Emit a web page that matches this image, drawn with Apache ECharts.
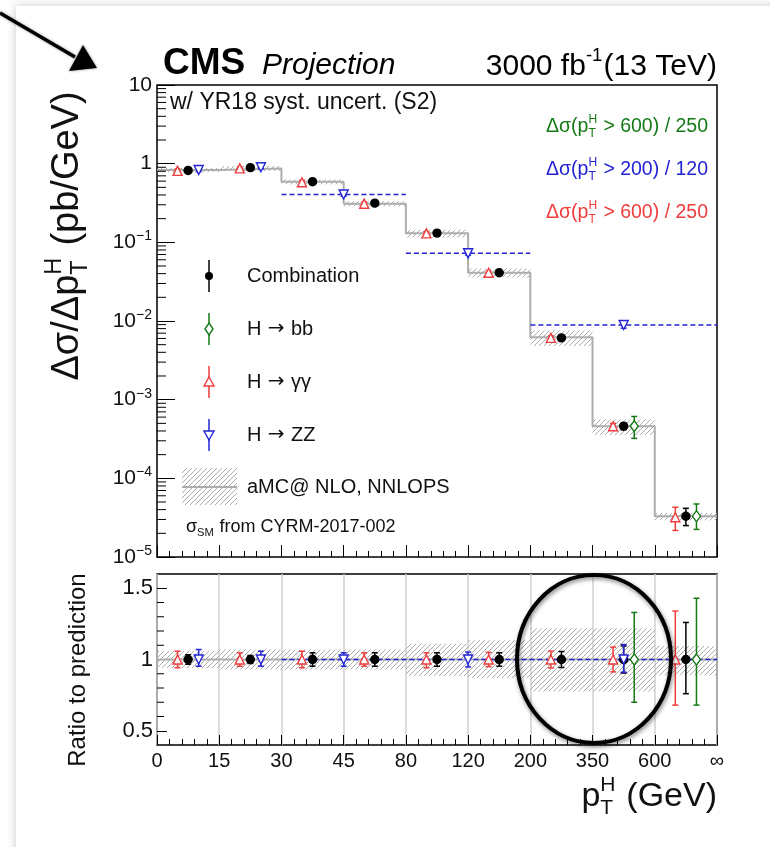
<!DOCTYPE html>
<html>
<head>
<meta charset="utf-8">
<script src="https://cdn.jsdelivr.net/npm/echarts@6/dist/echarts.min.js"></script>
<style>
html, body { margin: 0; padding: 0; background: #fff; }
#main { width: 770px; height: 847px; }
</style>
</head>
<body>
<div id="main"></div>
<script>
// bin edges of pT(H) in GeV, equal width on the plot
const binEdges = ['0', '15', '30', '45', '80', '120', '200', '350', '600', '∞'];

// aMC@NLO NNLOPS prediction, pb/GeV, and its relative band
const theory = [0.83, 0.87, 0.59, 0.31, 0.13, 0.041, 0.0062, 0.00046, 0.000033];
const theoryUp = [0.06, 0.07, 0.07, 0.07, 0.11, 0.135, 0.22, 0.22, 0.095];
const theoryDn = [0.06, 0.07, 0.07, 0.07, 0.115, 0.13, 0.225, 0.225, 0.11];

// combination
const comboVal = [0.82, 0.89, 0.59, 0.315, 0.131, 0.041, 0.0061, 0.00046, 0.000033];
const comboRatio = [1, 1, 1, 1, 1, 1, 1, 1, 1];
const comboUp = [0.033, 0.028, 0.047, 0.047, 0.047, 0.047, 0.056, 0.095, 0.26];
const comboDn = [0.033, 0.028, 0.047, 0.047, 0.047, 0.047, 0.056, 0.095, 0.24];

// H -> gamma gamma
const ggVal = [0.81, 0.87, 0.58, 0.31, 0.13, 0.041, 0.0061, 0.00046, 0.000032];
const ggRatio = [1, 1, 1, 1, 1, 1, 1, 1, 1];
const ggUp = [0.058, 0.047, 0.058, 0.047, 0.047, 0.05, 0.059, 0.087, 0.34];
const ggDn = [0.058, 0.047, 0.058, 0.047, 0.058, 0.05, 0.059, 0.087, 0.32];

// H -> ZZ, some bins merged (bin index ranges)
const zzLo = [0, 1, 2, 4, 6];
const zzHi = [1, 2, 4, 6, 9];
const zzVal = [0.83, 0.90, 0.405, 0.0725, 0.0089];
const zzRatio = [1, 1, 1, 1, 1];
const zzUp = [0.07, 0.058, 0.047, 0.052, 0.105];
const zzDn = [0.047, 0.047, 0.047, 0.052, 0.089];

// H -> bb
const bbBin = [7, 8];
const bbVal = [0.00046, 0.000033];
const bbRatio = [1, 1];
const bbUp = [0.33, 0.43];
const bbDn = [0.30, 0.32];

// axis decorations
const logMinor = [];
[-5, -4, -3, -2, -1, 0].forEach(function (e) {
  [2, 3, 4, 5, 6, 7, 8, 9].forEach(function (d) { logMinor.push(d * Math.pow(10, e)); });
});
const ratioMinor = [0.6, 0.7, 0.8, 0.9, 1.1, 1.2, 1.3, 1.4];

const FONT = '"Liberation Sans", Arial, Helvetica, sans-serif';
const ARROWFONT = '"DejaVu Sans", sans-serif';
const RED = '#f03c3c', GREEN = '#157a15', BLUE = '#2323d6';
const OFF = 0.17;

const mctx = document.createElement('canvas').getContext('2d');
function tw(t, size, weight, style, fam) {
  mctx.font = (style || 'normal') + ' ' + (weight || 'normal') + ' ' + size + 'px ' + (fam || FONT);
  return mctx.measureText(t).width;
}

// hatch pattern
function hatchCanvas(color) {
  const c = document.createElement('canvas');
  c.width = 5; c.height = 5;
  const g = c.getContext('2d');
  g.strokeStyle = color; g.lineWidth = 1;
  g.beginPath();
  g.moveTo(0, 5); g.lineTo(5, 0);
  g.moveTo(-1, 1); g.lineTo(1, -1);
  g.moveTo(4, 6); g.lineTo(6, 4);
  g.stroke();
  return c;
}
const hatchFill = { image: hatchCanvas('#ababab'), repeat: 'repeat' };

// text with sub/superscripts
function comp(parts, size, color, weight, fstyle) {
  const small = size * 0.62;
  let x = 0;
  const ch = [];
  parts.forEach(function (p) {
    if (typeof p === 'string' || p.t) {
      const t = typeof p === 'string' ? p : p.t;
      const fam = p.font || FONT;
      ch.push({ type: 'text', x: x, y: 0, silent: true, style: { text: t, fontFamily: fam, fontSize: size,
        fontWeight: weight || 'normal', fontStyle: fstyle || 'normal', fill: color, align: 'left', verticalAlign: 'middle' } });
      x += tw(t, size, weight, fstyle, fam);
    } else {
      let w = 0;
      if (p.sup) {
        ch.push({ type: 'text', x: x, y: -size * 0.36, silent: true, style: { text: p.sup, fontFamily: FONT, fontSize: small,
          fill: color, align: 'left', verticalAlign: 'middle' } });
        w = Math.max(w, tw(p.sup, small));
      }
      if (p.sub) {
        ch.push({ type: 'text', x: x, y: size * 0.32, silent: true, style: { text: p.sub, fontFamily: FONT, fontSize: small,
          fill: color, align: 'left', verticalAlign: 'middle' } });
        w = Math.max(w, tw(p.sub, small));
      }
      x += w + size * 0.04;
    }
  });
  return { children: ch, width: x };
}
function place(parts, x, y, size, color, align, weight, fstyle) {
  const c = comp(parts, size, color, weight, fstyle);
  const x0 = align === 'right' ? x - c.width : (align === 'center' ? x - c.width / 2 : x);
  return { type: 'group', x: x0, y: y, z: 20, children: c.children };
}
function placeRot(parts, cx, cy, size, color) {
  const c = comp(parts, size, color);
  c.children.forEach(function (e) { e.x -= c.width / 2; });
  return { type: 'group', x: cx, y: cy, rotation: Math.PI / 2, z: 20, children: c.children };
}

// render helpers
function bandItem(params, api) {
  const i = api.value(0);
  const a = api.coord([i, api.value(1)]);
  const b = api.coord([i + 1, api.value(2)]);
  return { type: 'rect', shape: { x: a[0], y: a[1], width: b[0] - a[0], height: b[1] - a[1] },
    style: { fill: hatchFill } };
}
function errItem(color, cap) {
  return function (params, api) {
    const x = api.value(0);
    const lo = api.coord([x, api.value(2)]);
    const hi = api.coord([x, api.value(3)]);
    const st = { stroke: color, lineWidth: 1.5 };
    return { type: 'group', children: [
      { type: 'line', shape: { x1: lo[0], y1: lo[1], x2: hi[0], y2: hi[1] }, style: st },
      { type: 'line', shape: { x1: lo[0] - cap, y1: lo[1], x2: lo[0] + cap, y2: lo[1] }, style: st },
      { type: 'line', shape: { x1: hi[0] - cap, y1: hi[1], x2: hi[0] + cap, y2: hi[1] }, style: st }
    ] };
  };
}
function spanItem(params, api) {
  const a = api.coord([api.value(0), api.value(2)]);
  const b = api.coord([api.value(1), api.value(2)]);
  return { type: 'line', shape: { x1: a[0], y1: a[1], x2: b[0], y2: b[1] },
    style: { stroke: BLUE, lineWidth: 1.5, lineDash: [5, 3] } };
}
function tickItem(len) {
  return function (params, api) {
    const p = api.coord([0, api.value(0)]);
    return { type: 'line', shape: { x1: p[0], y1: p[1], x2: p[0] + len, y2: p[1] },
      style: { stroke: '#000', lineWidth: 1 } };
  };
}

// data rows
function pts(vals, up, dn, xs) {
  return vals.map(function (v, i) { return [xs[i], v, v * (1 - dn[i]), v * (1 + up[i])]; });
}
const binX = theory.map(function (v, i) { return i + 0.5; });
const ggX = binX.map(function (x) { return x - OFF; });
const zzX = zzLo.map(function (lo, i) { return (lo + zzHi[i]) / 2 + (zzHi[i] - lo === 1 ? OFF : 0); });
const bbX = bbBin.map(function (b) { return b + 0.5 + OFF; });

const stepData = theory.map(function (v, i) { return [i, v]; });
stepData.push([theory.length, theory[theory.length - 1]]);

const mergedZZ = zzLo.map(function (lo, i) { return i; }).filter(function (i) { return zzHi[i] - zzLo[i] > 1; });

function scatter(name, data, g, symbol, size, color, fill, rot) {
  return { name: name, type: 'scatter', xAxisIndex: g, yAxisIndex: g, z: 6,
    data: data.map(function (d) { return [d[0], d[1]]; }),
    symbol: symbol, symbolSize: size, symbolRotate: rot || 0,
    itemStyle: { color: fill, borderColor: color, borderWidth: 1.4, opacity: 1 } };
}
function errSeries(data, g, color) {
  return { type: 'custom', xAxisIndex: g, yAxisIndex: g, z: 5, renderItem: errItem(color, 3), data: data };
}

function panelSeries(g) {
  const isTop = g === 0;
  const band = theory.map(function (t, i) {
    const c = isTop ? t : 1;
    return [i, c * (1 + theoryUp[i]), c * (1 - theoryDn[i])];
  });
  const combo = pts(isTop ? comboVal : comboRatio, comboUp, comboDn, binX);
  const gg = pts(isTop ? ggVal : ggRatio, ggUp, ggDn, ggX);
  const zz = pts(isTop ? zzVal : zzRatio, zzUp, zzDn, zzX);
  const bb = pts(isTop ? bbVal : bbRatio, bbUp, bbDn, bbX);
  let spans = mergedZZ.map(function (i) { return [zzLo[i], zzHi[i], isTop ? zzVal[i] : zzRatio[i]]; });
  if (!isTop) spans = [[zzLo[mergedZZ[0]], zzHi[zzHi.length - 1], 1]];
  const s = [
    { type: 'custom', xAxisIndex: g, yAxisIndex: g, z: 1, renderItem: bandItem, data: band },
    { type: 'line', xAxisIndex: g, yAxisIndex: g, z: 2, step: isTop ? 'end' : false, symbol: 'none',
      lineStyle: { color: '#adadad', width: 2 },
      data: isTop ? stepData : [[0, 1], [9, 1]] },
    { type: 'custom', xAxisIndex: g, yAxisIndex: g, z: 3, renderItem: spanItem, data: spans },
    errSeries(gg, g, RED), errSeries(combo, g, '#000'), errSeries(zz, g, BLUE), errSeries(bb, g, GREEN),
    scatter('gg', gg, g, 'triangle', 9, RED, '#fff'),
    scatter('combo', combo, g, 'circle', 8, '#000', '#000'),
    scatter('zz', zz, g, 'triangle', 9, BLUE, '#fff', 180),
    scatter('bb', bb, g, 'diamond', [8, 11], GREEN, '#fff')
  ];
  s.push({ type: 'custom', xAxisIndex: g, yAxisIndex: g, z: 7, clip: false, encode: { y: 0 },
    renderItem: tickItem(isTop ? 9 : 7), data: (isTop ? logMinor : ratioMinor).map(function (v) { return [v]; }) });
  return s;
}

function fmtLog(v) {
  const e = Math.round(Math.log10(v));
  if (e === 0) return '{b|1}';
  if (e === 1) return '{b|10}';
  return '{b|10}{s|−' + (-e) + '}';
}

// legend block
const LX = 209;
function legErr(y, color) {
  return { type: 'line', z: 20, shape: { x1: LX, y1: y - 16, x2: LX, y2: y + 16 }, style: { stroke: color, lineWidth: 1.5 } };
}
const ARROW = { t: ' → ', font: ARROWFONT };
const legend = [
  legErr(276, '#000'),
  { type: 'circle', z: 21, shape: { cx: LX, cy: 276, r: 4 }, style: { fill: '#000' } },
  legErr(329, GREEN),
  { type: 'polygon', z: 21, shape: { points: [[LX, 323], [LX + 4, 329], [LX, 335], [LX - 4, 329]] }, style: { fill: '#fff', stroke: GREEN, lineWidth: 1.4 } },
  legErr(382, RED),
  { type: 'polygon', z: 21, shape: { points: [[LX, 377], [LX + 5, 386], [LX - 5, 386]] }, style: { fill: '#fff', stroke: RED, lineWidth: 1.4 } },
  legErr(435, BLUE),
  { type: 'polygon', z: 21, shape: { points: [[LX, 440], [LX + 5, 431], [LX - 5, 431]] }, style: { fill: '#fff', stroke: BLUE, lineWidth: 1.4 } },
  { type: 'rect', z: 20, shape: { x: 182, y: 468, width: 55, height: 37 }, style: { fill: hatchFill } },
  { type: 'line', z: 21, shape: { x1: 182, y1: 487, x2: 237, y2: 487 }, style: { stroke: '#adadad', lineWidth: 2 } },
  place(['Combination'], 247, 276, 20, '#111'),
  place(['H', ARROW, 'bb'], 247, 329, 20, '#111'),
  place(['H', ARROW, 'γγ'], 247, 382, 20, '#111'),
  place(['H', ARROW, 'ZZ'], 247, 435, 20, '#111'),
  place(['aMC@ NLO, NNLOPS'], 247, 487, 20, '#111'),
  place(['σ', { sub: 'SM' }, ' from CYRM-2017-002'], 186, 527, 18, '#111')
];

const texts = [
  place(['CMS'], 163, 64, 37, '#000', 'left', 'bold'),
  place(['Projection'], 262, 66, 30, '#000', 'left', 'normal', 'italic'),
  place(['3000 fb', { sup: '-1' }, '(13 TeV)'], 717, 67, 30, '#000', 'right'),
  place(['w/ YR18 syst. uncert. (S2)'], 170, 103, 23, '#111'),
  place(['Δσ(p', { sup: 'H', sub: 'T' }, ' > 600) / 250'], 708, 127, 19.5, GREEN, 'right'),
  place(['Δσ(p', { sup: 'H', sub: 'T' }, ' > 200) / 120'], 708, 170, 19.5, BLUE, 'right'),
  place(['Δσ(p', { sup: 'H', sub: 'T' }, ' > 600) / 250'], 708, 213, 19.5, RED, 'right'),
  placeRot(['Δσ/Δp', { sup: 'H', sub: 'T' }, ' (pb/GeV)'], 68, 236, 38, '#111'),
  placeRot(['Ratio to prediction'], 78, 670, 24, '#111'),
  place(['p', { sup: 'H', sub: 'T' }, ' (GeV)'], 717, 797, 34, '#111', 'right')
];

const annot = [
  { type: 'rect', z: -5, shape: { x: 16, y: 6, width: 770, height: 860 },
    style: { fill: '#fff', shadowBlur: 9, shadowColor: 'rgba(0,0,0,0.22)' } },
  { type: 'line', z: 30, shape: { x1: 0, y1: 13, x2: 75, y2: 57 },
    style: { stroke: '#000', lineWidth: 3.5, shadowBlur: 3, shadowColor: 'rgba(0,0,0,0.4)' } },
  { type: 'polygon', z: 30, shape: { points: [[83, 45], [69, 71], [97, 68]] },
    style: { fill: '#000', shadowBlur: 3, shadowColor: 'rgba(0,0,0,0.4)' } },
  { type: 'ellipse', z: 30, shape: { cx: 594, cy: 659, rx: 77, ry: 84 },
    style: { fill: 'none', stroke: '#000', lineWidth: 4, shadowBlur: 4, shadowOffsetX: 1, shadowOffsetY: 2, shadowColor: 'rgba(0,0,0,0.5)' } }
];

const chart = echarts.init(document.getElementById('main'), null, { renderer: 'canvas' });
const xBase = {
  type: 'value', min: 0, max: 9, interval: 1,
  axisLine: { show: false },
  minorTick: { show: true, splitNumber: 5, length: 6, lineStyle: { color: '#000', width: 1 } }
};
chart.setOption({
  animation: false,
  backgroundColor: '#fff',
  grid: [
    { left: 157, top: 85, width: 560, height: 472, show: true, borderColor: '#000', borderWidth: 1.5, backgroundColor: 'transparent' },
    { left: 157, top: 574, width: 560, height: 171, show: true, borderColor: '#000', borderWidth: 1.5, backgroundColor: 'transparent' }
  ],
  xAxis: [
    Object.assign({}, xBase, { gridIndex: 0, axisLabel: { show: false },
      axisTick: { inside: true, length: 12, lineStyle: { color: '#000' } }, splitLine: { show: false } }),
    Object.assign({}, xBase, { gridIndex: 1,
      axisTick: { inside: true, length: 10, lineStyle: { color: '#000' } },
      splitLine: { show: true, lineStyle: { color: '#d0d0d0', width: 1.5 } },
      axisLabel: { margin: 6, fontFamily: FONT, fontSize: 20, color: '#111',
        formatter: function (v) { return binEdges[Math.round(v)]; } } })
  ],
  yAxis: [
    { type: 'log', gridIndex: 0, logBase: 10, min: 1e-5, max: 10, interval: 1, position: 'left',
      axisLine: { show: false }, splitLine: { show: false },
      axisTick: { inside: true, length: 18, lineStyle: { color: '#000' } },
      axisLabel: { margin: 5, formatter: fmtLog,
        rich: { b: { fontFamily: FONT, fontSize: 21, color: '#111', lineHeight: 26 },
                s: { fontFamily: FONT, fontSize: 14, color: '#111', verticalAlign: 'top', lineHeight: 14 } } } },
    { type: 'value', gridIndex: 1, min: 0.4, max: 1.6, position: 'left',
      axisLine: { show: false }, splitLine: { show: false },
      axisTick: { inside: true, length: 10, customValues: [0.5, 1, 1.5], lineStyle: { color: '#000' } },
      axisLabel: { margin: 4, customValues: [0.5, 1, 1.5], fontFamily: FONT, fontSize: 22, color: '#111',
        formatter: function (v) { return String(Math.round(v * 10) / 10); } } }
  ],
  series: panelSeries(0).concat(panelSeries(1)),
  graphic: annot.concat(legend, texts)
});
</script>
</body>
</html>
